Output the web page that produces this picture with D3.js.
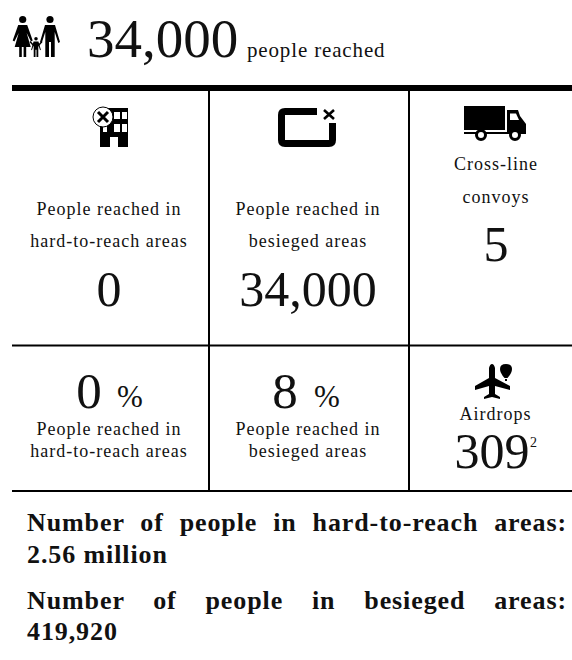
<!DOCTYPE html>
<html><head><meta charset="utf-8">
<script src="https://cdn.jsdelivr.net/npm/d3@7"></script>
<style>html,body{margin:0;padding:0;background:#fff}svg{display:block}text{font-family:"Liberation Serif",serif;fill:#111}</style>
</head><body><div id="c"></div>
<script>
const headlineValue = "34,000";
const headlineUnit = "people reached";
const topLabels = [["People reached in","hard-to-reach areas"],["People reached in","besieged areas"],["Cross-line","convoys"]];
const topValues = ["0","34,000","5"];
const pctValues = ["0","8"];
const pctLabels = [["People reached in","hard-to-reach areas"],["People reached in","besieged areas"]];
const airdropLabel = "Airdrops";
const airdropValue = "309";
const airdropNote = "2";
const footnotes = [["Number of people in hard-to-reach areas:","2.56 million"],["Number of people in besieged areas:","419,920"]];

const W=572,H=660;
const svg=d3.select("#c").append("svg").attr("width",W).attr("height",H);
const cx=[109,308,496];
function t(x,y,s,size,opts={}){
  return svg.append("text").attr("x",x).attr("y",y).attr("text-anchor",opts.anchor||"middle")
   .attr("font-size",size).style("letter-spacing",(opts.ls||0)+"px").attr("font-weight",opts.weight||null).text(s);
}
function rule(x1,y1,x2,y2,w){svg.append("line").attr("x1",x1).attr("y1",y1).attr("x2",x2).attr("y2",y2).attr("stroke","#000").attr("stroke-width",w);}
rule(12,88,572,88,6);
rule(12,345.5,572,345.5,2);
rule(12,491,572,491,2);
rule(209,91,209,491,2);
rule(409,91,409,491,2);

// headline
t(87,56.5,headlineValue,55,{anchor:"start"});
t(247,57,headlineUnit,21,{anchor:"start",ls:0.85});

// top row
[[215,247],[215,247],[170,203]].forEach((ys,i)=>{
  t(cx[i],ys[0],topLabels[i][0],18,{ls:1});
  t(cx[i],ys[1],topLabels[i][1],18,{ls:1});
});
t(cx[0],306,topValues[0],50);
t(cx[1],306,topValues[1],50);
t(cx[2],261,topValues[2],50);

// pct row
const digitX=[89,285], signX=[130,327];
pctValues.forEach((v,i)=>{
  t(digitX[i],408,v,51);
  t(signX[i],407,"%",31);
  t(cx[i],435,pctLabels[i][0],18,{ls:1});
  t(cx[i],457,pctLabels[i][1],18,{ls:1});
});
t(495.5,420,airdropLabel,18,{ls:1});
t(492,468,airdropValue,50);
t(533.5,447,airdropNote,14);

// footnotes
const fx0=27,fx1=567;
[[531,563],[609,640]].forEach((ys,i)=>{
  const l=t(fx0,ys[0],footnotes[i][0],26,{anchor:"start",weight:"bold",ls:0.9});
  const n=footnotes[i][0].split(" ").length-1;
  const w=l.node().getComputedTextLength();
  l.style("word-spacing",((fx1-fx0-w)/n)+"px");
  t(fx0,ys[1],footnotes[i][1],26,{anchor:"start",weight:"bold",ls:0.9});
});

// icons (local glyph shapes)
function person(g,x,foot,h,dress){
  const u=h/41;
  const p=g.append("g").attr("transform",`translate(${x},${foot}) scale(${u})`);
  p.append("circle").attr("cx",0).attr("cy",-37.5).attr("r",3.6);
  if(dress){
    p.append("path").attr("d","M-4.5-32H4.5L10-16.5 8.3-15.5 4-24 8-10H3.5V0H.9V-10H-.9V0H-3.5V-10H-8L-4-24-8.3-15.5-10-16.5Z");
  } else {
    p.append("path").attr("d","M-5-32H5L10-15 8.3-14 4.7-25V0H1V-15H-1V0H-4.7V-25L-8.3-14-10-15Z");
  }
}
const fam=svg.append("g");
person(fam,22.7,57,41,true);
person(fam,50,57,41,false);
person(fam,36,57,20,false);
fam.append("path").attr("d","M30 41.5L34 46M42 41.5L38 46").attr("stroke","#000").attr("stroke-width",1.5).attr("fill","none");

// building
const b=svg.append("g");
b.append("path").attr("fill","#000").attr("fill-rule","evenodd").attr("d","M100 108H128V147H118V137H110V147H100Z M114 112v7h6v-7z M122 112v7h5v-7z M114 124v8h6v-8z M122 124v8h5v-8z M103 124v8h4v-8z");
b.append("circle").attr("cx",103).attr("cy",117).attr("r",10).attr("fill","#fff").attr("stroke","#000").attr("stroke-width",1);
b.append("path").attr("d","M98 112L108 122M108 112L98 122").attr("stroke","#000").attr("stroke-width",3);

// box
const bx=svg.append("g");
bx.append("path").attr("d","M317 111.5H285Q281.5 111.5 281.5 115V140Q281.5 143.5 285 143.5H329Q332.5 143.5 332.5 140V123").attr("fill","none").attr("stroke","#000").attr("stroke-width",7);
bx.append("path").attr("d","M324 110L334 119M334 110L324 119").attr("stroke","#000").attr("stroke-width",2.6);

// truck
const tr=svg.append("g");
tr.append("path").attr("d","M464 106H505V130H464Z M507 110H518L520 116L526 124V134H464V132H507Z");
tr.append("path").attr("d","M510 113.5H516L519 120H510Z").attr("fill","#fff");
[481,515].forEach(c=>{tr.append("circle").attr("cx",c).attr("cy",135).attr("r",4.5).attr("fill","#fff").attr("stroke","#000").attr("stroke-width",3);});

// plane + balloon
const pl=svg.append("g");
pl.append("path").attr("d","M492 364Q494 364 495 368V378L510 386V390L495 386V394L500 397V399L492 397L484 399V397L489 394V386L475 390V386L489 378V368Q490 364 492 364Z");
pl.append("path").attr("d","M506 364Q512 364 512 369Q512 373 507.5 378H504.5Q500 373 500 369Q500 364 506 364Z");
pl.append("rect").attr("x",505).attr("y",379).attr("width",2).attr("height",2);
</script></body></html>
